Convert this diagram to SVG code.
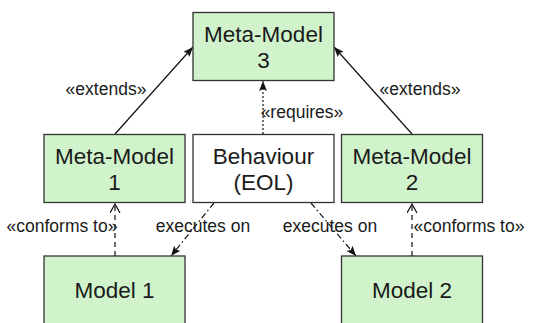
<svg xmlns="http://www.w3.org/2000/svg" width="535" height="323" viewBox="0 0 535 323">
<style>
.box{fill:#d0f3cc;stroke:#333;stroke-width:1.3}
.wbox{fill:#fff;stroke:#333;stroke-width:1.3}
.bt{font-family:"Liberation Sans",Arial,sans-serif;font-size:22.5px;fill:#1a1a1a;text-anchor:middle}
.lt{font-family:"Liberation Sans",Arial,sans-serif;font-size:17.5px;fill:#1a1a1a;text-anchor:middle}
.c{fill:none;stroke:#111;stroke-width:1.2}
</style>
<defs>
<marker id="fa" markerUnits="userSpaceOnUse" markerWidth="12" markerHeight="10" refX="10" refY="4" orient="auto">
<path d="M0,0 L10,4 L0,8 L2,4 Z" fill="#111"/>
</marker>
<marker id="oa" markerUnits="userSpaceOnUse" markerWidth="12" markerHeight="12" refX="9" refY="5" orient="auto">
<path d="M0,0 L9,5 L0,10" fill="none" stroke="#111" stroke-width="1.2"/>
</marker>
</defs>
<g id="connectors">
<line class="c" x1="115" y1="134" x2="193" y2="47" marker-end="url(#fa)"/>
<line class="c" x1="412" y1="134" x2="334" y2="47" marker-end="url(#fa)"/>
<line class="c" x1="263" y1="134" x2="263" y2="81" stroke-dasharray="2,2" marker-end="url(#fa)"/>
<line class="c" x1="115" y1="256" x2="115" y2="204" stroke-dasharray="5,4" marker-end="url(#oa)"/>
<line class="c" x1="412" y1="256" x2="412" y2="204" stroke-dasharray="5,4" marker-end="url(#oa)"/>
<line class="c" x1="214" y1="203" x2="171" y2="256" stroke-dasharray="6,3,1.5,3" marker-end="url(#fa)"/>
<line class="c" x1="311" y1="203" x2="356" y2="256" stroke-dasharray="6,3,1.5,3" marker-end="url(#fa)"/>
<text class="lt" x="106" y="95">«extends»</text>
<text class="lt" x="420" y="95">«extends»</text>
<text class="lt" x="302" y="118">«requires»</text>
<text class="lt" x="62" y="232">«conforms to»</text>
<text class="lt" x="203" y="232">executes on</text>
<text class="lt" x="330" y="232">executes on</text>
<text class="lt" x="469" y="232">«conforms to»</text>
</g>
<g id="mm3">
<rect class="box" x="193" y="12.5" width="141" height="68"/>
<text class="bt" x="263.5" y="41.5">Meta-Model</text>
<text class="bt" x="263.5" y="68">3</text>
</g>
<g id="mm1">
<rect class="box" x="44" y="134.5" width="141" height="68"/>
<text class="bt" x="114.5" y="163.5">Meta-Model</text>
<text class="bt" x="114.5" y="190">1</text>
</g>
<g id="behaviour">
<rect class="wbox" x="193" y="134.5" width="141" height="68"/>
<text class="bt" x="263.5" y="163.5">Behaviour</text>
<text class="bt" x="263.5" y="190">(EOL)</text>
</g>
<g id="mm2">
<rect class="box" x="341.5" y="134.5" width="141" height="68"/>
<text class="bt" x="412" y="163.5">Meta-Model</text>
<text class="bt" x="412" y="190">2</text>
</g>
<g id="model1">
<rect class="box" x="44" y="256" width="141" height="68"/>
<text class="bt" x="114.5" y="298">Model 1</text>
</g>
<g id="model2">
<rect class="box" x="341.5" y="256" width="141" height="68"/>
<text class="bt" x="412" y="298">Model 2</text>
</g>
</svg>
